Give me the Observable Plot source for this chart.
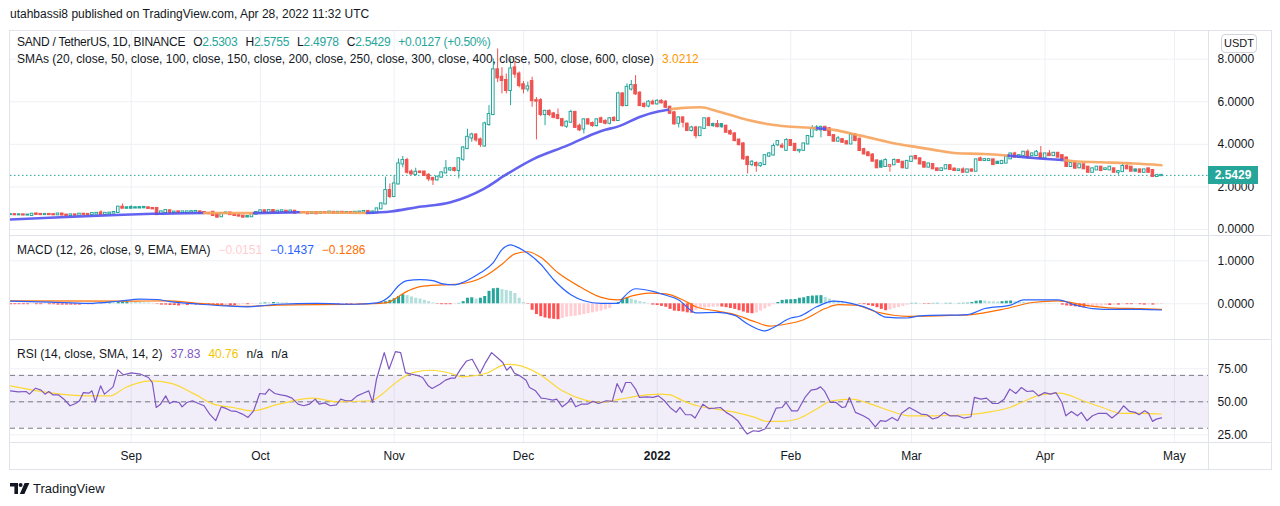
<!DOCTYPE html>
<html>
<head>
<meta charset="utf-8">
<script src="https://cdn.jsdelivr.net/npm/d3@7"></script>
<script src="https://cdn.jsdelivr.net/npm/@observablehq/plot@0.6"></script>
<style>
  html, body { margin: 0; padding: 0; background: #ffffff; }
  #root { position: relative; width: 1280px; height: 506px; overflow: hidden; background: #fff;
          font-family: "Liberation Sans", Arial, sans-serif; color: #131722; }
  .abs { position: absolute; white-space: nowrap; }
  .lg { font-size: 12px; line-height: 16px; }
  .sep { position: absolute; background: #e0e3eb; }
  .g { margin-left: 8px; }
</style>
</head>
<body>
<div id="root"></div>
<script>
// ---------------- DATA ----------------
// Daily candles [open, high, low, close], SAND/USDT, starting 2021-08-04
const aug21 = [[0.70,0.72,0.68,0.70],[0.70,0.72,0.68,0.69],[0.69,0.71,0.67,0.69],[0.69,0.70,0.66,0.68],[0.68,0.70,0.66,0.68],
[0.66,0.73,0.65,0.72],[0.73,0.78,0.70,0.71],[0.71,0.73,0.69,0.70],[0.70,0.72,0.68,0.71],[0.71,0.73,0.69,0.70],
[0.70,0.72,0.68,0.69],[0.69,0.74,0.68,0.73],[0.73,0.74,0.67,0.68],[0.68,0.69,0.65,0.66],[0.66,0.70,0.65,0.69],
[0.69,0.70,0.66,0.67],[0.67,0.73,0.66,0.72],[0.72,0.74,0.70,0.71],[0.71,0.73,0.69,0.70],[0.70,0.76,0.69,0.75],
[0.72,0.77,0.71,0.76],[0.78,0.88,0.70,0.71],[0.71,0.77,0.70,0.76],[0.74,0.79,0.73,0.77],[0.77,0.82,0.76,0.80],
[0.80,1.08,0.79,1.05],[1.05,1.20,0.98,1.00],[1.02,1.06,0.98,1.00]];
const sep21 = [[1.03,1.12,0.99,1.00],[1.02,1.05,0.99,1.01],[1.03,1.06,1.00,1.01],[1.04,1.08,1.01,1.02],[1.02,1.04,0.98,0.99],
[0.99,1.01,0.96,0.97],[0.99,1.00,0.66,0.70],[0.75,0.85,0.72,0.83],[0.80,0.92,0.79,0.89],[0.88,0.89,0.78,0.79],
[0.80,0.84,0.78,0.82],[0.83,0.84,0.79,0.80],[0.80,0.84,0.79,0.83],[0.79,0.84,0.78,0.83],[0.82,0.86,0.81,0.84],
[0.82,0.87,0.81,0.85],[0.83,0.84,0.76,0.77],[0.80,0.81,0.74,0.75],[0.76,0.78,0.73,0.74],[0.81,0.82,0.65,0.66],
[0.70,0.71,0.56,0.58],[0.60,0.75,0.58,0.74],[0.76,0.79,0.74,0.78],[0.78,0.79,0.69,0.70],[0.70,0.72,0.65,0.66],
[0.66,0.68,0.62,0.63],[0.63,0.65,0.57,0.58],[0.61,0.63,0.57,0.59],[0.60,0.74,0.59,0.72],[0.72,0.82,0.71,0.80]];
const oct21 = [[0.80,0.90,0.78,0.88],[0.88,0.89,0.79,0.80],[0.80,0.90,0.79,0.89],[0.89,0.90,0.80,0.81],[0.81,0.87,0.80,0.86],
[0.84,0.89,0.83,0.88],[0.86,0.87,0.79,0.80],[0.80,0.88,0.79,0.87],[0.86,0.87,0.76,0.77],[0.80,0.84,0.78,0.80],
[0.80,0.82,0.77,0.79],[0.79,0.81,0.73,0.74],[0.75,0.81,0.74,0.80],[0.80,0.81,0.73,0.74],[0.76,0.81,0.75,0.80],
[0.80,0.83,0.77,0.78],[0.78,0.83,0.77,0.82],[0.81,0.82,0.75,0.76],[0.76,0.82,0.75,0.81],[0.81,0.82,0.77,0.78],
[0.78,0.81,0.77,0.80],[0.80,0.81,0.77,0.78],[0.78,0.82,0.77,0.81],[0.81,0.83,0.80,0.82],[0.82,0.86,0.81,0.85],
[0.85,0.86,0.77,0.78],[0.78,0.88,0.77,0.82],[0.82,0.99,0.80,0.97],[0.97,1.25,0.95,1.20],[1.20,2.46,1.18,1.83],
[1.83,2.14,1.45,1.55]];
const nov21 = [[1.55,2.53,1.50,2.14],[2.14,3.32,2.10,3.08],[3.08,3.43,2.90,3.24],[3.24,3.35,2.60,2.69],[2.70,2.80,2.55,2.61],
[2.58,2.88,2.50,2.69],[2.70,2.75,2.62,2.68],[2.70,2.74,2.50,2.54],[2.55,2.62,2.25,2.38],[2.40,2.45,2.07,2.33],
[2.33,2.50,2.28,2.46],[2.46,2.70,2.42,2.66],[2.66,3.24,2.62,2.85],[2.80,2.92,2.72,2.85],[2.86,2.92,2.70,2.77],
[2.77,3.36,2.38,3.32],[3.30,3.90,3.20,3.83],[3.80,4.71,3.75,4.33],[4.30,4.52,4.10,4.44],[4.44,4.50,4.10,4.21],
[4.21,4.30,3.85,3.99],[3.92,5.04,3.88,4.96],[4.93,5.82,4.85,5.40],[5.40,8.01,5.35,7.50],[7.50,8.48,6.90,7.12],
[7.15,7.60,6.37,7.00],[7.00,7.30,6.37,6.53],[6.53,8.01,5.82,7.54],[7.59,7.92,7.10,7.30],[7.30,7.40,6.65,6.76]];
const dec21 = [[6.80,6.95,6.37,6.60],[6.60,6.92,6.45,6.70],[6.95,7.15,5.74,6.05],[6.05,6.20,4.21,6.03],[6.05,6.15,5.30,5.40],
[5.40,5.60,4.88,5.55],[5.55,5.62,5.30,5.40],[5.43,5.50,5.20,5.27],[5.35,5.66,5.15,5.22],[5.16,5.22,4.80,4.88],
[4.85,5.10,4.75,5.04],[5.04,5.60,4.98,5.50],[5.50,5.55,4.75,4.80],[4.85,4.95,4.60,4.68],[4.72,5.20,4.49,5.15],
[5.15,5.22,4.90,4.96],[4.98,5.05,4.80,4.88],[4.88,5.20,4.82,5.15],[5.20,5.28,4.98,5.04],[5.08,5.15,4.92,4.99],
[4.99,5.25,4.92,5.20],[5.22,5.30,5.05,5.12],[5.12,6.45,5.08,6.37],[6.37,6.42,5.75,5.82],[5.82,6.84,5.78,6.68],
[6.60,7.00,6.50,6.76],[6.76,7.23,6.30,6.37],[6.40,6.48,5.78,5.82],[5.88,5.95,5.70,5.78],[5.80,6.05,5.72,5.98],
[5.98,6.08,5.85,5.90]];
const jan22 = [[5.90,6.10,5.85,6.02],[6.02,6.10,5.90,5.95],[5.98,6.06,5.70,5.74],[5.74,5.80,5.40,5.46],[5.48,5.55,4.90,4.96],
[4.99,5.30,4.77,5.24],[5.24,5.30,4.77,5.04],[4.95,5.00,4.60,4.65],[4.65,4.85,4.58,4.77],[4.77,4.85,4.26,4.41],
[4.41,4.80,4.41,4.77],[4.75,5.22,4.70,5.20],[5.20,5.27,4.85,4.88],[4.93,5.00,4.80,4.88],[4.93,5.12,4.78,4.83],
[4.93,4.98,4.75,4.83],[4.85,4.90,4.52,4.57],[4.60,4.68,4.42,4.49],[4.49,4.55,4.12,4.18],[4.20,4.25,3.92,3.99],
[4.02,4.08,3.25,3.32],[3.38,3.45,2.61,3.05],[3.05,3.24,2.95,3.16],[3.10,3.18,2.69,3.00],[3.00,3.15,2.92,3.08],
[3.05,3.50,3.00,3.47],[3.45,3.62,3.38,3.55],[3.50,4.02,3.45,3.90],[3.98,4.18,3.90,4.13],[3.92,4.05,3.80,3.87],
[3.72,4.26,3.68,4.18]];
const feb22 = [[4.18,4.21,3.90,3.95],[4.00,4.05,3.66,3.71],[3.70,3.76,3.58,3.72],[3.72,4.05,3.68,4.02],[4.02,4.40,3.98,4.37],
[4.36,4.88,4.30,4.73],[4.68,4.88,4.60,4.77],[4.68,4.85,4.30,4.80],[4.80,4.85,4.60,4.65],[4.73,4.78,4.38,4.41],
[4.41,4.45,4.10,4.15],[4.15,4.37,4.10,4.26],[4.22,4.28,4.05,4.10],[4.12,4.18,3.98,4.02],[4.02,4.48,3.98,4.44],
[4.44,4.49,4.12,4.18],[4.24,4.30,3.68,3.71],[3.75,3.82,3.50,3.55],[3.60,3.66,3.42,3.47],[3.50,3.56,3.18,3.21],
[3.22,3.28,2.86,2.90],[3.18,3.26,2.88,2.93],[2.96,3.32,2.92,3.24],[2.97,3.04,2.69,3.00],[3.04,3.32,3.00,3.24],
[3.24,3.28,3.12,3.16],[3.16,3.20,2.86,2.90],[2.88,3.22,2.85,3.20]];
const mar22 = [[3.20,3.43,3.16,3.40],[3.43,3.47,3.28,3.32],[3.32,3.36,3.04,3.08],[3.14,3.18,2.90,2.93],[2.93,3.10,2.90,3.08],
[3.05,3.09,2.82,2.85],[2.85,2.88,2.74,2.77],[2.77,2.88,2.74,2.85],[2.85,3.02,2.82,3.00],[3.00,3.02,2.80,2.82],
[2.84,2.88,2.74,2.77],[2.77,2.83,2.74,2.80],[2.80,2.90,2.66,2.69],[2.69,2.82,2.66,2.80],[2.80,2.83,2.71,2.74],
[2.74,3.30,2.72,3.27],[3.32,3.40,3.20,3.24],[3.24,3.34,3.20,3.28],[3.24,3.32,3.20,3.28],[3.27,3.30,3.02,3.05],
[3.16,3.20,3.06,3.10],[3.10,3.24,3.05,3.20],[3.12,3.42,3.10,3.40],[3.32,3.58,3.30,3.55],[3.55,3.63,3.36,3.40],
[3.40,3.50,3.36,3.47],[3.47,3.66,3.44,3.63],[3.63,3.74,3.38,3.40],[3.47,3.58,3.44,3.55],[3.47,3.71,3.44,3.63],
[3.55,3.90,3.33,3.36]];
const apr22 = [[3.36,3.58,3.32,3.55],[3.55,3.71,3.44,3.47],[3.47,3.62,3.44,3.58],[3.58,3.62,3.36,3.40],[3.47,3.50,3.28,3.32],
[3.36,3.40,2.92,2.96],[2.96,3.14,2.92,3.10],[3.10,3.12,2.85,2.88],[2.90,3.06,2.86,3.04],[3.04,3.07,2.82,2.85],
[2.93,2.96,2.66,2.69],[2.69,2.88,2.66,2.85],[2.80,2.96,2.78,2.93],[2.93,2.96,2.75,2.77],[2.82,2.88,2.78,2.85],
[2.80,2.96,2.78,2.93],[2.85,2.88,2.66,2.69],[2.69,2.76,2.55,2.72],[2.72,3.08,2.70,2.96],[2.96,3.15,2.82,2.85],
[2.93,2.96,2.72,2.74],[2.80,2.83,2.72,2.74],[2.80,2.83,2.66,2.69],[2.69,2.83,2.66,2.80],[2.85,2.88,2.66,2.69],
[2.77,2.80,2.45,2.49],[2.49,2.60,2.47,2.5302],[2.5303,2.5755,2.4978,2.5429]];

// SMA line readings [day offset from 2021-08-04, value]
const smaPoints = [[0,0.47],[11.6,0.58],[23.2,0.67],[33.0,0.74],[44.9,0.78],[56.5,0.77],[67.3,0.81],[82.7,0.78],[88.2,0.85],
[94.3,1.05],[102.1,1.28],[109.8,1.91],[115.2,2.61],[121.4,3.32],[129.1,3.94],[136.9,4.62],[141.5,4.88],[146.1,5.30],
[150.5,5.55],[153.0,5.64],[155.4,5.70],[160.1,5.74],[163.9,5.56],[169.3,5.24],[175.5,4.96],[183.3,4.80],[185.5,4.78],
[187.1,4.76],[189.5,4.72],[191.0,4.68],[197.2,4.41],[206.5,3.99],[210.3,3.87],[214.2,3.74],[219.6,3.58],[225.8,3.55],
[230.4,3.49],[231.5,3.47],[237.4,3.36],[244.5,3.26],[246.7,3.21],[252.9,3.16],[260.6,3.10],[267,3.0212]];

// MACD histogram, one value per day, by month
const histAug = [-0.02,-0.02,-0.02,-0.02,-0.02,-0.01,-0.02,-0.02,-0.01,-0.02,-0.02,-0.03,-0.03,-0.03,-0.03,-0.03,-0.03,-0.02,-0.02,-0.02,-0.01,0.01,0.01,0.02,0.02,0.03,0.04,0.045];
const histSep = [0.04,0.035,0.03,0.02,0.02,0.01,-0.01,-0.03,-0.03,-0.04,-0.04,-0.05,-0.04,-0.04,-0.03,-0.03,-0.03,-0.02,-0.03,-0.04,-0.05,-0.05,-0.04,-0.04,-0.04,-0.03,-0.02,-0.02,-0.01,-0.005];
const histOct = [0.01,0.02,0.02,0.03,0.03,0.02,0.02,0.01,0.01,0.01,0.0,-0.01,-0.02,-0.02,-0.03,-0.03,-0.03,-0.03,-0.03,-0.02,-0.02,-0.02,-0.01,-0.01,-0.01,0.0,-0.01,0.005,0.02,0.05,0.08];
const histNov = [0.12,0.17,0.21,0.19,0.16,0.13,0.11,0.08,0.05,0.02,-0.01,-0.02,-0.02,-0.02,-0.01,0.01,0.05,0.13,0.14,0.11,0.13,0.17,0.29,0.35,0.36,0.33,0.31,0.29,0.24,0.13];
const histDec = [0.03,-0.01,-0.15,-0.25,-0.30,-0.33,-0.35,-0.36,-0.37,-0.34,-0.31,-0.30,-0.29,-0.27,-0.25,-0.23,-0.21,-0.19,-0.17,-0.14,-0.11,-0.01,0.03,0.10,0.14,0.11,0.08,0.05,0.03,0.01,-0.03];
const histJan = [-0.04,-0.06,-0.08,-0.13,-0.17,-0.18,-0.19,-0.21,-0.22,-0.15,-0.11,-0.10,-0.09,-0.08,-0.07,-0.075,-0.09,-0.11,-0.13,-0.16,-0.19,-0.22,-0.23,-0.21,-0.17,-0.12,-0.07,-0.02,0.03,0.08,0.09];
const histFeb = [0.095,0.10,0.13,0.14,0.17,0.18,0.185,0.19,0.15,0.11,0.07,0.05,0.03,0.02,0.01,0.005,-0.01,-0.02,-0.04,-0.06,-0.09,-0.13,-0.16,-0.14,-0.11,-0.09,-0.06,-0.03];
const histMar = [0.01,0.012,0.008,-0.01,-0.012,0.01,0.012,0.005,0.01,0.012,0.005,0.01,0.012,0.015,0.03,0.06,0.07,0.065,0.05,0.045,0.04,0.05,0.06,0.065,0.05,0.04,0.03,0.02,0.02,0.01,0.01];
const histApr = [0.01,0.01,0.005,0.0,-0.03,-0.05,-0.06,-0.07,-0.08,-0.09,-0.08,-0.07,-0.06,-0.05,-0.04,-0.04,-0.03,-0.03,-0.02,-0.02,-0.02,-0.01,-0.02,-0.03,-0.02,-0.03,-0.02,-0.0151];

// MACD and signal line readings [day offset, value]
const macdPoints = [[0,0.06],[9,0.04],[18,0.01],[25,0.06],[30,0.11],[34,0.10],[37,0.05],[44,-0.01],[50,-0.05],[55,-0.07],
[59,-0.04],[62,-0.01],[71,0.01],[80,-0.01],[85,0.02],[88,0.18],[90,0.42],[92,0.54],[95,0.56],[98,0.54],[100,0.47],[103,0.44],
[105,0.50],[107,0.60],[109,0.72],[112,0.96],[114,1.26],[116,1.37],[117,1.34],[119,1.24],[123,0.92],[126,0.56],[130,0.21],
[133,0.07],[137,0.01],[141,0.01],[142,0.13],[145,0.35],[149,0.29],[151,0.23],[155,0.09],[159,-0.21],[164,-0.20],[168,-0.27],
[171,-0.47],[175,-0.63],[177,-0.55],[181,-0.33],[183,-0.29],[187,-0.07],[191,0.06],[195,0.01],[200,-0.15],[203,-0.31],
[208,-0.33],[211,-0.28],[222,-0.25],[226,-0.11],[232,-0.03],[235,0.09],[243,0.09],[247,-0.03],[251,-0.11],[256,-0.13],
[262,-0.13],[267,-0.1437]];
const signalPoints = [[0,0.07],[27,0.06],[36,0.07],[44,0.01],[55,-0.06],[62,-0.03],[80,-0.01],[87,0.02],[92,0.29],[95,0.40],
[100,0.44],[104,0.46],[110,0.64],[114,0.92],[117,1.16],[120,1.21],[123,1.08],[127,0.72],[132,0.40],[137,0.15],[141,0.09],
[144,0.18],[148,0.25],[152,0.23],[156,0.09],[159,-0.07],[164,-0.17],[168,-0.25],[173,-0.43],[176,-0.52],[180,-0.47],
[184,-0.37],[189,-0.11],[192,-0.02],[196,-0.03],[201,-0.19],[208,-0.29],[218,-0.27],[223,-0.25],[231,-0.11],[237,0.03],
[243,0.07],[249,-0.03],[256,-0.10],[262,-0.11],[267,-0.1286]];

// RSI(14) readings [day offset, value]
const rsiPoints = [[0,58.3],[1.8,57.5],[3.6,57.8],[4.4,55.8],[5.8,60.3],[7.1,58.8],[8.0,55.8],[8.9,57.8],[9.8,55.3],[11.1,55.3],
[12.4,52.0],[13.8,47.0],[15.1,48.7],[16.0,50.8],[16.9,57.0],[18.2,56.5],[18.9,58.3],[19.7,50.0],[20.9,62.1],[21.8,55.8],
[22.7,58.3],[23.8,61.3],[24.9,74.2],[26.2,70.4],[28.0,71.9],[30.2,70.9],[32.0,68.4],[32.9,64.6],[33.8,45.7],[34.8,48.2],
[36.0,54.5],[36.9,48.7],[37.8,50.3],[39.1,49.5],[39.8,46.2],[40.9,49.5],[42.2,50.8],[43.6,48.7],[44.9,47.0],[46.2,40.7],
[47.6,35.7],[48.9,46.2],[49.8,45.2],[51.1,43.2],[52.4,42.7],[53.8,40.7],[55.1,38.2],[56.4,43.2],[57.8,56.3],[59.1,55.8],
[60.0,59.6],[61.3,56.3],[62.7,55.3],[64.0,54.5],[65.3,52.8],[66.7,48.2],[68.0,47.0],[69.3,48.2],[70.7,52.0],[71.6,48.2],
[72.9,49.2],[74.2,47.0],[75.6,47.7],[76.6,52.0],[77.8,50.8],[79.1,50.8],[80.4,54.5],[81.8,56.5],[83.1,58.3],[84.0,49.5],
[84.9,67.1],[86.7,87.2],[87.8,74.7],[89.3,88.0],[90.5,87.2],[91.6,72.1],[92.9,70.9],[94.2,70.1],[95.6,68.4],[96.9,62.1],
[97.8,60.1],[99.6,63.3],[100.9,66.4],[102.2,67.9],[103.1,67.9],[104.4,74.7],[105.8,80.9],[107.1,82.2],[108.9,71.4],[110.2,79.7],
[111.6,87.2],[112.9,83.5],[114.2,79.7],[115.1,73.9],[116.0,76.7],[116.9,71.6],[118.2,69.6],[119.6,66.4],[120.4,60.8],[121.8,58.3],
[123.1,52.8],[124.0,52.5],[125.8,51.3],[126.7,52.0],[128.0,46.2],[129.3,49.5],[130.0,52.8],[131.1,46.2],[132.4,48.2],[133.8,48.2],
[135.1,50.3],[136.4,48.7],[138.2,50.8],[139.6,50.3],[140.7,63.8],[141.8,57.0],[142.7,64.6],[143.9,64.6],[145.0,59.6],[145.9,53.3],
[147.6,53.8],[149.0,53.3],[150.3,54.5],[151.7,50.8],[153.0,45.7],[154.4,42.0],[155.3,45.7],[156.6,40.2],[157.9,40.2],[158.8,37.7],
[160.6,48.2],[162.0,44.9],[163.3,45.2],[164.7,45.7],[166.0,42.0],[167.3,39.4],[168.7,35.7],[170.0,29.4],[170.9,25.6],[172.3,28.1],
[173.6,27.6],[175.0,29.4],[176.3,35.7],[177.6,45.2],[179.0,45.7],[179.9,49.5],[181.2,43.2],[182.6,43.2],[184.3,53.3],[185.7,58.8],
[187.0,59.6],[187.9,61.3],[188.8,58.3],[190.2,49.5],[191.5,49.5],[192.9,45.7],[193.7,46.2],[194.6,53.3],[196.0,42.0],[197.8,39.4],
[199.1,37.0],[200.6,31.1],[201.8,35.7],[203.1,35.2],[204.5,38.2],[205.8,35.7],[206.7,41.3],[208.5,45.7],[209.9,43.2],[211.2,40.7],
[212.6,40.2],[213.9,37.0],[215.2,38.2],[216.6,42.0],[217.9,39.4],[219.7,39.4],[221.1,37.7],[222.8,38.7],[223.6,53.3],[225.1,52.0],
[226.4,52.8],[227.8,48.7],[229.1,48.7],[230.5,52.0],[231.8,59.6],[233.2,56.3],[234.5,60.8],[235.8,57.8],[237.2,58.3],[238.5,54.5],
[239.9,57.0],[241.2,55.8],[242.5,57.0],[243.9,49.5],[244.8,39.4],[246.1,42.7],[247.5,39.4],[248.4,42.0],[249.7,35.7],[251.0,39.4],
[252.4,41.3],[254.2,41.3],[255.5,37.7],[256.9,41.3],[258.2,47.0],[259.6,42.7],[260.9,42.0],[261.8,40.2],[263.1,43.2],[264.0,41.3],
[264.9,35.2],[265.8,36.9],[267,37.83]];
// RSI moving average readings [day offset, value]
const rsiMaPoints = [[0,62.1],[8.9,57.0],[17.8,54.5],[23.1,54.5],[26.7,60.8],[32.4,65.8],[37.3,64.0],[42.7,55.8],[47.1,48.2],
[51.6,45.7],[56.0,43.2],[62.2,48.2],[70.2,52.8],[75.6,50.0],[83.6,50.8],[86.2,55.8],[88.9,63.3],[93.3,72.1],[97.8,73.9],
[102.2,71.4],[104.9,68.9],[110.2,71.4],[115.1,78.4],[117.3,77.9],[122.7,70.9],[128.0,58.3],[133.3,51.3],[136.9,49.5],
[141.4,52.0],[145.9,54.5],[150.3,55.8],[153.0,55.3],[155.7,51.3],[159.3,47.0],[163.8,44.5],[168.2,42.0],[172.7,38.2],
[175.4,35.2],[179.0,35.2],[182.6,37.0],[187.0,44.5],[190.6,50.8],[195.1,52.0],[199.6,48.2],[204.0,43.2],[208.5,39.4],
[213.9,39.4],[222.0,40.2],[226.4,42.0],[231.8,45.7],[235.4,50.8],[239.0,55.3],[243.4,56.5],[248.8,50.8],[253.3,45.7],
[257.8,41.3],[262.2,41.3],[267,40.76]];

// Axis ticks and labels
const priceTicks = [0, 2, 4, 6, 8];
const macdTicks = [0, 1];
const rsiTicks = [25, 50, 75];
const rsiLevels = [70, 50, 30];
const monthTicks = ["2021-09-01","2021-10-01","2021-11-01","2021-12-01","2022-01-01","2022-02-01","2022-03-01","2022-04-01","2022-05-01"];
const monthLabels = ["Sep","Oct","Nov","Dec","2022","Feb","Mar","Apr","May"];

// ---------------- BUILD ----------------
const DAY = 864e5;
const t0 = Date.UTC(2021, 7, 4);
const toDate = d => new Date(t0 + d * DAY);
const viewDays = 277.9;
const GREEN = "#26a69a", RED = "#ef5350", BLUE = "#5252ee", ORANGE = "#f7a35b", GRID = "#eef0f4";
const FONT = '"Liberation Sans", Arial, sans-serif';

const raw = [aug21, sep21, oct21, nov21, dec21, jan22, feb22, mar22, apr22].flat();
const candles = raw.map((q, i) => {
  const prev = i ? raw[i - 1][3] : q[0];
  return {date: toDate(i), open: q[0], high: q[1], low: q[2], close: q[3],
          color: q[3] >= prev ? GREEN : RED, hollow: q[3] > q[0]};
});
const last = candles[candles.length - 1];
const prevClose = candles[candles.length - 2].close;

const sma = smaPoints.map(([d, v]) => {
  const c = candles[Math.min(candles.length - 1, Math.round(d))].close;
  return {date: toDate(d), v, color: c >= v ? BLUE : ORANGE};
});
const smaSeg = [];
{
  let i = 0, r = 0;
  while (i < sma.length - 1) {
    const col = sma[i].color; let j = i;
    while (j < sma.length - 1 && sma[j].color === col) j++;
    for (let k = i; k <= j; k++) smaSeg.push({date: sma[k].date, v: sma[k].v, run: r, color: col});
    r++; i = j;
  }
}

const histVals = [histAug, histSep, histOct, histNov, histDec, histJan, histFeb, histMar, histApr].flat();
const hist = histVals.map((v, i) => {
  const p = i ? histVals[i - 1] : v;
  const color = v >= 0 ? (p < v ? "#26a69a" : "#b2dfdb") : (p < v ? "#ffcdd2" : "#ff5252");
  return {date: toDate(i), v, color};
});
const pts = arr => arr.map(([d, v]) => ({date: toDate(d), v}));
const macd = pts(macdPoints), signal = pts(signalPoints), rsi = pts(rsiPoints), rsiMa = pts(rsiMaPoints);
const months = monthTicks.map((s, i) => ({date: new Date(s + "T00:00:00Z"), label: monthLabels[i], bold: /^\d{4}$/.test(monthLabels[i])}));
const monthDates = months.map(m => m.date);

const root = document.getElementById("root");
const W = 1260, MR = 62;
const xDef = {type: "utc", domain: [toDate(0), toDate(viewDays)], axis: null};
const style = {fontFamily: FONT, fontSize: "12px", color: "#131722", background: "transparent"};
const base = {width: W, marginLeft: 0, marginRight: MR, marginTop: 0, marginBottom: 0, x: xDef, style};
const yAxis = (ticks, fmt) => ({axis: "right", ticks, tickFormat: d3.format(fmt), tickSize: 0, tickPadding: 9, label: null});
const bw = 0.3 * DAY;

function place(svg, top) {
  svg.style.position = "absolute";
  svg.style.left = "10px";
  svg.style.top = top + "px";
  root.appendChild(svg);
  return svg;
}

// Price pane
const pricePlot = Plot.plot({...base, height: 204,
  y: {domain: [-0.28, 9.30], ...yAxis(priceTicks, ".4f")},
  marks: [
    Plot.ruleX(monthDates, {stroke: GRID}),
    Plot.ruleY(priceTicks, {stroke: GRID}),
    Plot.ruleY([last.close], {stroke: GREEN, strokeDasharray: "1.5,2.5"}),
    Plot.ruleX(candles, {x: "date", y1: "low", y2: "high", stroke: "color", clip: true}),
    Plot.rect(candles, {x1: d => new Date(+d.date - bw), x2: d => new Date(+d.date + bw), y1: "open", y2: "close",
      fill: d => d.hollow ? "#ffffff" : d.color, stroke: "color", insetTop: -0.5, insetBottom: -0.5, clip: true}),
    Plot.line(smaSeg, {x: "date", y: "v", z: "run", stroke: "color", strokeWidth: 2.6, strokeOpacity: 0.9, curve: "monotone-x", clip: true})
  ]});
place(pricePlot, 31);

// MACD pane
const macdPlot = Plot.plot({...base, height: 103,
  y: {domain: [-0.83, 1.565], ...yAxis(macdTicks, ".4f")},
  marks: [
    Plot.ruleX(monthDates, {stroke: GRID}),
    Plot.ruleY(macdTicks, {stroke: GRID}),
    Plot.ruleX(hist, {x: "date", y1: 0, y2: "v", stroke: "color", strokeWidth: 3, clip: true}),
    Plot.line(signal, {x: "date", y: "v", stroke: "#ff6d00", strokeWidth: 1.2, curve: "monotone-x", clip: true}),
    Plot.line(macd, {x: "date", y: "v", stroke: "#2962ff", strokeWidth: 1.2, curve: "monotone-x", clip: true})
  ]});
place(macdPlot, 236);

// RSI pane
const rsiPlot = Plot.plot({...base, height: 102,
  y: {domain: [19.2, 96.4], ...yAxis(rsiTicks, ".2f")},
  marks: [
    Plot.ruleX(monthDates, {stroke: GRID}),
    Plot.ruleY(rsiTicks, {stroke: GRID}),
    Plot.rect([[rsiLevels[2], rsiLevels[0]]], {y1: d => d[0], y2: d => d[1], fill: "#7e57c2", fillOpacity: 0.1}),
    Plot.ruleY(rsiLevels, {stroke: "#787b86", strokeDasharray: "5,4"}),
    Plot.line(rsiMa, {x: "date", y: "v", stroke: "#fdd835", strokeWidth: 1.2, curve: "monotone-x", clip: true}),
    Plot.line(rsi, {x: "date", y: "v", stroke: "#7e57c2", strokeWidth: 1.2, clip: true})
  ]});
place(rsiPlot, 340);

// Time axis
const timePlot = Plot.plot({...base, height: 26,
  marks: [
    Plot.text(months.filter(m => !m.bold), {x: "date", text: "label", frameAnchor: "middle", fill: "#131722", fontSize: 12}),
    Plot.text(months.filter(m => m.bold), {x: "date", text: "label", frameAnchor: "middle", fill: "#131722", fontSize: 12, fontWeight: "bold"})
  ]});
place(timePlot, 443);

// Frame and separators
function sep(l, t, w, h) { const d = document.createElement("div"); d.className = "sep";
  Object.assign(d.style, {left: l + "px", top: t + "px", width: w + "px", height: h + "px"}); root.appendChild(d); }
sep(9, 30, 1263, 1); sep(9, 469, 1263, 1); sep(9, 30, 1, 440); sep(1271, 30, 1, 440);
sep(10, 235, 1261, 1); sep(10, 339, 1261, 1); sep(10, 442, 1261, 1);
sep(1208, 31, 1, 438);

function div(html, css, cls) { const d = document.createElement("div"); d.className = cls || "abs"; d.innerHTML = html;
  Object.assign(d.style, css); root.appendChild(d); return d; }
const f4 = d3.format(".4f"), f2 = d3.format(".2f");
const chg = last.close - prevClose;
const T = v => `<span style="color:${GREEN}">${v}</span>`;
const G = (txt, color) => `<span class="g"${color ? ` style="color:${color}"` : ""}>${txt}</span>`;

div("utahbassi8 published on TradingView.com, Apr 28, 2022 11:32 UTC", {left: "10px", top: "6px", fontSize: "12px", lineHeight: "16px", color: "#131722"});
div(`SAND / TetherUS, 1D, BINANCE${G("O" + T(f4(last.open)))}${G("H" + T(f4(last.high)))}${G("L" + T(f4(last.low)))}${G("C" + T(f4(last.close)))}${G((chg >= 0 ? "+" : "") + f4(chg) + " (" + (chg >= 0 ? "+" : "") + f2(chg / prevClose * 100) + "%)", GREEN)}`,
  {left: "17px", top: "34px", letterSpacing: "-0.25px"}, "abs lg");
div(`SMAs (20, close, 50, close, 100, close, 150, close, 200, close, 250, close, 300, close, 400, close, 500, close, 600, close)${G(f4(sma[sma.length - 1].v), "#ff9800")}`,
  {left: "17px", top: "51px"}, "abs lg");
div(`MACD (12, 26, close, 9, EMA, EMA)${G(f4(histVals[histVals.length - 1]), "#ffcdd2")}${G(f4(macd[macd.length - 1].v), "#2962ff")}${G(f4(signal[signal.length - 1].v), "#ff6d00")}`,
  {left: "17px", top: "242px"}, "abs lg");
div(`RSI (14, close, SMA, 14, 2)${G(f2(rsi[rsi.length - 1].v), "#7e57c2")}${G(f2(rsiMa[rsiMa.length - 1].v), "#f5c400")}${G("n/a")}${G("n/a")}`,
  {left: "17px", top: "346px"}, "abs lg");

// USDT box
div("USDT", {left: "1221px", top: "34px", width: "34px", height: "17px", lineHeight: "17px", textAlign: "center",
  fontSize: "11px", border: "1px solid #d1d4dc", borderRadius: "4px", background: "#fff"});
// Last price label (positioned via the price scale)
const yLast = pricePlot.scale("y").apply(last.close) + 31;
div(f4(last.close), {left: "1208px", top: (yLast - 9) + "px", width: "50px", height: "18px", lineHeight: "18px",
  textAlign: "center", fontSize: "12px", fontWeight: "bold", color: "#fff", background: GREEN});

// Footer logo
div(`<svg width="20" height="11" viewBox="0 0 20 11"><path d="M0 0H8V11H4.4V3.6H0Z" fill="#131722"/><circle cx="10.6" cy="2" r="2" fill="#131722"/><path d="M14.6 0H19.4L14.4 11H9.8Z" fill="#131722"/></svg>`,
  {left: "10px", top: "483px", lineHeight: "0"});
div("TradingView", {left: "33px", top: "480px", fontSize: "13px", lineHeight: "18px", color: "#131722"});
</script>
</body>
</html>
